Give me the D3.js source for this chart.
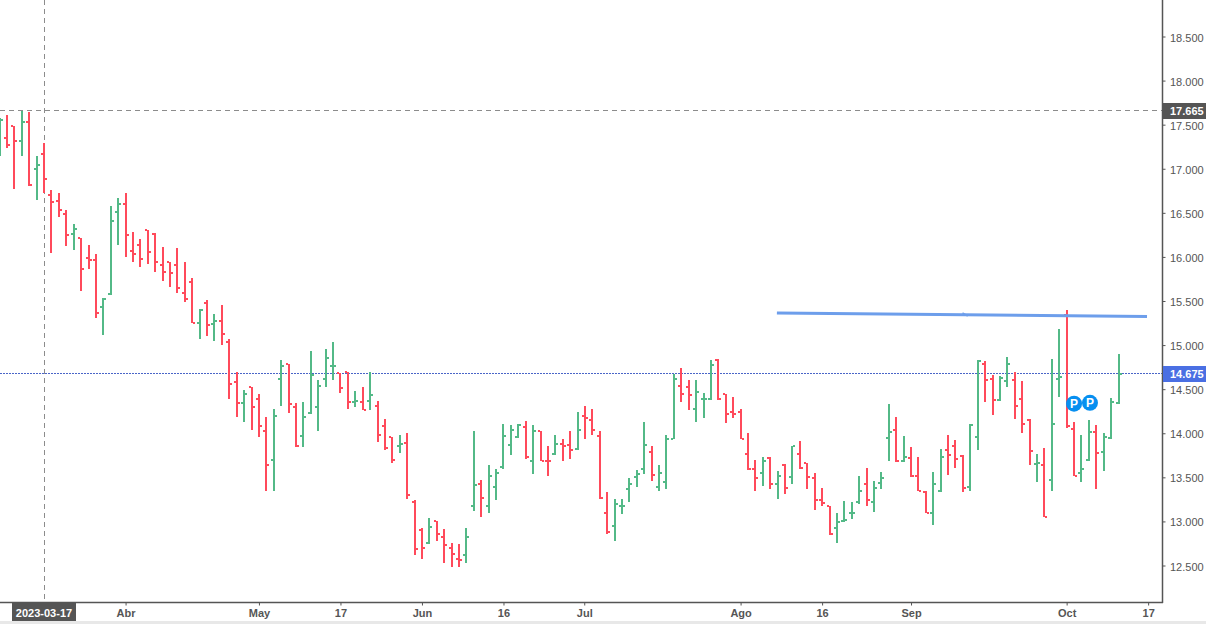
<!DOCTYPE html>
<html>
<head>
<meta charset="utf-8">
<script src="https://cdn.jsdelivr.net/npm/d3@7/dist/d3.min.js"></script>
<style>
  html, body { margin: 0; padding: 0; background: #fff; overflow: hidden; }
  svg { display: block; font-family: "Liberation Sans", Arial, sans-serif; }
</style>
</head>
<body>
<svg id="chart" width="1206" height="624"></svg>
<script>
const opens = [
  17.29,17.35,17.49,17.32,17.53,17.00,17.17,16.70,16.63,16.49,16.26,16.21,15.99,15.97,15.43,15.58,16.51,16.60,16.07,16.13,
  16.30,16.26,15.91,15.94,15.91,15.59,15.72,15.25,15.48,15.24,15.27,15.03,14.58,14.34,14.53,14.39,14.02,13.70,14.61,14.78,
  14.30,13.97,14.23,14.30,14.62,14.76,14.68,14.69,14.36,14.35,14.37,14.31,14.08,13.96,13.86,13.89,13.22,12.90,12.75,13.00,
  12.82,12.70,12.57,12.62,13.17,13.42,13.18,13.39,13.62,13.87,13.96,14.07,13.68,14.02,13.69,13.76,13.88,13.87,13.82,14.20,
  14.15,13.97,13.10,12.95,13.18,13.37,13.50,13.59,13.79,13.39,13.45,13.94,14.54,14.53,14.27,14.39,14.39,14.83,14.45,14.24,
  14.24,13.76,13.60,13.55,13.72,13.43,13.64,13.50,13.77,13.66,13.49,13.24,13.18,12.92,13.01,13.10,13.22,13.42,13.22,13.44,
  13.95,14.04,13.68,13.72,13.51,13.33,13.10,13.35,13.81,13.86,13.74,13.39,13.96,14.79,14.62,14.38,14.59,14.60,14.39,14.15,
  13.65,13.64,13.47,14.61,15.34,14.05,13.55,13.70,14.01,13.79,13.95,14.34
];
const highs = [
  17.57,17.61,17.49,17.66,17.64,17.14,17.29,16.76,16.72,16.53,16.37,16.21,16.14,16.03,15.53,16.58,16.67,16.73,16.28,16.20,
  16.31,16.27,16.11,15.94,16.10,15.94,15.76,15.41,15.51,15.35,15.45,15.07,14.69,14.49,14.53,14.44,14.18,14.28,14.83,14.78,
  14.34,14.36,14.93,14.60,14.96,15.04,14.68,14.69,14.48,14.52,14.69,14.37,14.16,13.96,13.98,14.00,13.24,12.92,13.04,13.01,
  12.91,12.76,12.74,12.92,14.03,13.47,13.64,13.60,14.11,14.09,14.10,14.14,14.09,14.02,13.86,13.98,13.93,14.02,14.24,14.31,
  14.27,14.02,13.33,13.25,13.25,13.49,13.58,14.13,13.85,13.64,13.98,14.67,14.74,14.60,14.60,14.46,14.83,14.84,14.45,14.41,
  14.27,14.00,13.70,13.73,13.73,13.57,13.65,13.86,13.91,13.66,13.55,13.38,13.18,13.10,13.23,13.22,13.51,13.61,13.46,13.56,
  14.33,14.18,13.97,13.84,13.73,13.35,13.56,13.82,13.98,13.92,13.75,14.10,14.83,14.82,14.66,14.65,14.87,14.70,14.59,14.16,
  13.77,13.83,14.84,15.18,15.40,14.13,13.98,14.15,14.09,14.00,14.40,14.90
];
const lows = [
  17.15,17.24,16.77,17.14,16.81,16.64,16.73,16.05,16.45,16.12,16.08,15.61,15.86,15.31,15.12,15.57,16.14,16.00,15.94,15.89,
  15.92,15.83,15.73,15.66,15.59,15.49,15.25,15.07,15.10,15.05,15.00,14.39,14.18,14.13,14.04,13.96,13.34,13.34,14.31,14.23,
  13.84,13.84,14.22,14.02,14.52,14.60,14.46,14.28,14.30,14.26,14.26,13.90,13.81,13.66,13.78,13.25,12.62,12.57,12.74,12.78,
  12.53,12.48,12.48,12.53,13.12,13.05,13.10,13.24,13.59,13.75,13.95,13.71,13.54,13.68,13.51,13.75,13.68,13.71,13.81,13.94,
  13.98,13.25,12.86,12.78,13.08,13.22,13.39,13.54,13.46,13.34,13.37,13.93,14.35,14.26,14.13,14.17,14.38,14.38,14.12,14.17,
  13.93,13.58,13.34,13.40,13.37,13.25,13.31,13.43,13.60,13.37,13.13,13.17,12.85,12.75,12.99,13.03,13.20,13.18,13.11,13.37,
  13.69,13.67,13.67,13.50,13.34,13.09,12.96,13.33,13.53,13.61,13.33,13.34,13.81,14.36,14.21,14.37,14.53,14.16,14.00,13.64,
  13.45,13.05,13.35,14.41,14.06,13.51,13.45,13.68,13.37,13.57,13.94,14.33
];
const closes = [
  17.55,17.27,17.32,17.53,16.82,17.04,16.88,16.62,16.53,16.25,16.32,15.86,15.97,15.36,15.52,16.41,16.60,16.25,16.03,15.98,
  16.06,15.94,15.83,15.82,15.65,15.52,15.25,15.40,15.23,15.27,15.13,14.56,14.34,14.45,14.30,14.08,13.64,14.19,14.76,14.33,
  13.86,14.18,14.66,14.54,14.85,14.76,14.51,14.35,14.37,14.26,14.43,13.98,13.83,13.70,13.88,13.30,12.69,12.70,12.94,12.86,
  12.73,12.63,12.56,12.82,13.41,13.27,13.52,13.55,13.97,14.04,14.09,13.73,14.02,13.69,13.68,13.88,13.86,13.81,14.04,14.17,
  14.04,13.26,12.88,13.20,13.18,13.43,13.54,13.87,13.53,13.55,13.93,14.61,14.45,14.43,14.47,14.39,14.77,14.39,14.22,14.22,
  13.94,13.59,13.49,13.68,13.43,13.51,13.38,13.85,13.61,13.50,13.24,13.21,12.86,12.99,13.02,13.10,13.34,13.24,13.38,13.49,
  14.01,13.69,13.73,13.51,13.35,13.10,13.43,13.73,13.75,13.71,13.38,14.09,14.82,14.60,14.38,14.63,14.79,14.31,14.10,13.80,
  13.66,13.05,14.10,14.64,14.08,13.52,13.60,14.01,13.78,13.96,14.35,14.675
];

const priceTicks = [12.5,13,13.5,14,14.5,15,15.5,16,16.5,17,17.5,18,18.5];
const monthTickIdx = [17,35,46,57,68,78.9,100,111,123,144,155];
const monthTickLabels = ['Abr','May','17','Jun','16','Jul','Ago','16','Sep','Oct','17'];

const crossIdx = 6;
const crossPrice = 17.665;
const crossDate = '2023-03-17';
const lastPrice = 14.675;
const trendIdx = [104.9,154.85];
const trendPrice = [15.364,15.324];
const handleIdx = [129.95,130.65];
const handlePrice = [15.365,15.33];
const markerIdx = [145.0,147.15];
const markerPrice = [14.335,14.345];

const width = 1206, height = 624, plotR = 1163, plotB = 602;
const up = '#53b987', down = '#ff4a5b', axisCol = '#555555';

const svg = d3.select('#chart');

const x = d3.scaleLinear().domain([0,151]).range([-0.4,1118.5]);
const y = d3.scaleLinear().domain([12.5,18.5]).range([565.5,36.5]);

// bottom strip
svg.append('rect').attr('x',0).attr('y',621).attr('width',width).attr('height',3).attr('fill','#e8e8e8');

// crosshair
svg.append('line')
  .attr('x1',Math.round(x(crossIdx))+0.5).attr('x2',Math.round(x(crossIdx))+0.5).attr('y1',0).attr('y2',plotB)
  .attr('stroke','#8c8c8c').attr('stroke-dasharray','5,4');
svg.append('line')
  .attr('x1',0).attr('x2',plotR).attr('y1',Math.round(y(crossPrice))+0.5).attr('y2',Math.round(y(crossPrice))+0.5)
  .attr('stroke','#8c8c8c').attr('stroke-dasharray','5,4');

// last price line
svg.append('line')
  .attr('x1',0).attr('x2',plotR).attr('y1',Math.floor(y(lastPrice))+0.5).attr('y2',Math.floor(y(lastPrice))+0.5)
  .attr('stroke','#4a65c8').attr('stroke-dasharray','2,1');

// ohlc bars
const bars = svg.append('g').selectAll('g')
  .data(opens.map((o,i) => ({i, o, h: highs[i], l: lows[i], c: closes[i]})))
  .enter().append('g')
  .attr('fill', d => d.c >= d.o ? up : down);
const bx = d => Math.round(x(d.i)) - 1;
bars.append('rect')
  .attr('x', bx).attr('width',2)
  .attr('y', d => Math.round(y(d.h)))
  .attr('height', d => Math.round(y(d.l)) - Math.round(y(d.h)));
bars.append('rect')
  .attr('x', d => bx(d) - 2).attr('width',2).attr('height',2)
  .attr('y', d => Math.round(y(d.o)) - 1);
bars.append('rect')
  .attr('x', d => bx(d) + 2).attr('width',2).attr('height',2)
  .attr('y', d => Math.round(y(d.c)) - 1);

// trend line + the little handle in its middle
svg.append('line')
  .attr('x1',x(trendIdx[0])).attr('y1',y(trendPrice[0]))
  .attr('x2',x(trendIdx[1])).attr('y2',y(trendPrice[1]))
  .attr('stroke','#6d9eeb').attr('stroke-width',3);
svg.append('line')
  .attr('x1',x(handleIdx[0])).attr('y1',y(handlePrice[0]))
  .attr('x2',x(handleIdx[1])).attr('y2',y(handlePrice[1]))
  .attr('stroke','#6d9eeb').attr('stroke-width',1.5);

// P markers
const marks = svg.append('g').selectAll('g').data(markerIdx).enter().append('g')
  .attr('transform',(d,i) => `translate(${x(d)},${y(markerPrice[i])})`);
marks.append('circle').attr('r',8).attr('fill','#078ff0');
marks.append('text').attr('text-anchor','middle').attr('y',4)
  .attr('fill','#fff').attr('font-size',12).attr('font-weight','bold').text('P');

// axes
const yAxis = d3.axisRight(y).tickValues(priceTicks).tickFormat(d3.format('.3f')).tickSize(3).tickSizeOuter(0);
const yG = svg.append('g').attr('transform',`translate(${plotR-0.5},0)`).call(yAxis);
yG.select('.domain').attr('d',`M0,0V${plotB+1}`).attr('stroke',axisCol).attr('stroke-width',1.5);
yG.selectAll('.tick line').attr('stroke',axisCol);
yG.selectAll('.tick text').attr('x',7.5).attr('y',1).attr('fill',axisCol).attr('font-size',11).attr('font-family','"Liberation Sans", Arial, sans-serif');

const xAxis = d3.axisBottom(x).tickValues(monthTickIdx).tickFormat((d,i) => monthTickLabels[i]).tickSize(3).tickSizeOuter(0);
const xG = svg.append('g').attr('transform',`translate(0,${plotB+0.5})`).call(xAxis);
xG.select('.domain').attr('d',`M0,0H${plotR}`).attr('stroke',axisCol).attr('stroke-width',1.5);
xG.selectAll('.tick line').attr('stroke',axisCol);
xG.selectAll('.tick text').attr('y',7).attr('fill',axisCol).attr('font-size',11).attr('font-weight','bold').attr('font-family','"Liberation Sans", Arial, sans-serif');

// price labels on the axis
function priceTag(v, fill) {
  const top = Math.floor(y(v) - 7);
  svg.append('rect').attr('x',plotR).attr('y',top).attr('width',43).attr('height',16).attr('fill',fill);
  svg.append('text').attr('x',plotR+7).attr('y',top+12).attr('fill','#fff')
    .attr('font-size',11).attr('font-weight','bold').text(v.toFixed(3));
}
priceTag(crossPrice,'#555555');
priceTag(lastPrice,'#4a6fe3');

// crosshair date tag
svg.append('rect').attr('x',12).attr('y',plotB+1).attr('width',64).attr('height',18).attr('fill','#555555');
svg.append('text').attr('x',44).attr('y',plotB+15).attr('text-anchor','middle').attr('fill','#fff')
  .attr('font-size',11).attr('font-weight','bold').text(crossDate);
</script>
</body>
</html>
